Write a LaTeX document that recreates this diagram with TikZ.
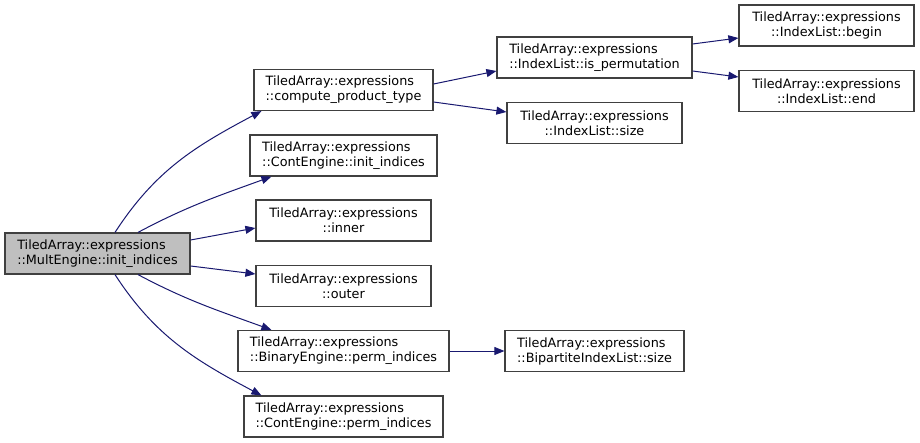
\documentclass[tikz,border=0pt]{standalone}
\usepackage{fontspec}
\setmainfont{DejaVu Sans}
\usetikzlibrary{arrows.meta}
\definecolor{edgeblue}{HTML}{191970}
\definecolor{boxline}{HTML}{404040}
\definecolor{boxfill}{HTML}{BFBFBF}
\tikzset{
  fn/.style={
    minimum width=#1,
    minimum height=41pt,
    inner sep=2pt,
    draw=boxline, line width=1.2pt, fill=white,
    align=center,
  },
  fnl/.style={fn=#1, align=left},
  call/.style={
    draw=edgeblue, line width=1pt,
    -{Triangle[length=10pt, width=8pt]},
  },
}

\begin{document}
\begin{tikzpicture}[x=1pt, y=1pt, font=\fontsize{12.8}{15}\selectfont]
\useasboundingbox (0,0) rectangle (920,-443);
\node[fnl=185pt, fill=boxfill] (main) at (97.5,-253.5) {TiledArray::expressions\\::MultEngine::init\_indices};

\node[fnl=179pt] (cpt) at (343.5,-90) {TiledArray::expressions\\::compute\_product\_type};
\node[fnl=187pt] (cinit) at (343.5,-155.5) {TiledArray::expressions\\::ContEngine::init\_indices};
\node[fn=175pt] (inner) at (343.5,-220.5) {TiledArray::expressions\\::inner};
\node[fn=175pt] (outer) at (343.5,-286) {TiledArray::expressions\\::outer};
\node[fnl=211pt] (binary) at (343.5,-351) {TiledArray::expressions\\::BinaryEngine::perm\_indices};
\node[fnl=199pt] (cperm) at (343.5,-416.5) {TiledArray::expressions\\::ContEngine::perm\_indices};

\node[fnl=195pt] (isperm) at (594.5,-57.5) {TiledArray::expressions\\::IndexList::is\_permutation};
\node[fn=175pt] (ilsize) at (594.5,-123) {TiledArray::expressions\\::IndexList::size};
\node[fnl=179pt] (bpsize) at (594.5,-351) {TiledArray::expressions\\::BipartiteIndexList::size};

\node[fn=175pt] (begin) at (826.5,-25.5) {TiledArray::expressions\\::IndexList::begin};
\node[fn=175pt] (end) at (826.5,-91) {TiledArray::expressions\\::IndexList::end};

% calls from the main node
\draw[call] ([xshift=17.5pt]main.north) to[out=57, in=208] ([xshift=8pt]cpt.south west);
\draw[call] ([xshift=40.5pt]main.north) to[out=28, in=200] ([xshift=22pt]cinit.south west);
\draw[call] ([yshift=13.5pt]main.east) -- ([yshift=-7.5pt]inner.west);
\draw[call] ([yshift=-12.5pt]main.east) -- ([yshift=12pt]outer.west);
\draw[call] ([xshift=40.5pt]main.south) to[out=-28, in=160] ([xshift=34pt]binary.north west);
\draw[call] ([xshift=17.5pt]main.south) to[out=-57, in=152] ([xshift=18pt]cperm.north west);

% second level
\draw[call] ([yshift=6pt]cpt.east) -- ([yshift=-13.5pt]isperm.west);
\draw[call] ([yshift=-12pt]cpt.east) -- ([yshift=11pt]ilsize.west);
\draw[call] ([yshift=13.5pt]isperm.east) -- ([yshift=-12.5pt]begin.west);
\draw[call] ([yshift=-13.5pt]isperm.east) -- ([yshift=14pt]end.west);
\draw[call] (binary) -- (bpsize);
\end{tikzpicture}
\end{document}
